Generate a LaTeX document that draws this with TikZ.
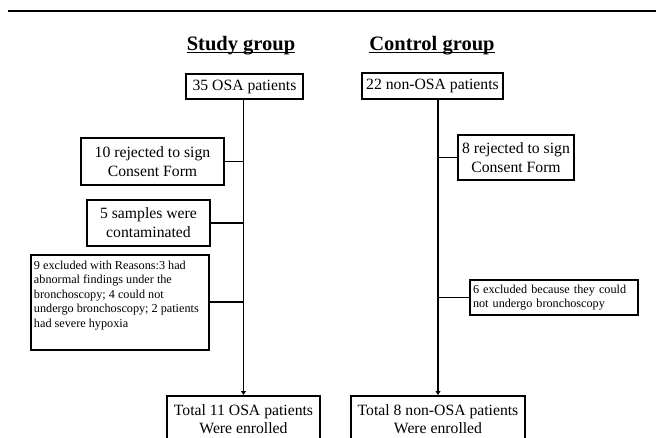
\documentclass[tikz,border=0pt]{standalone}
\usepackage{fontspec}
\setmainfont{Liberation Serif}
\usetikzlibrary{positioning, arrows.meta}

\begin{document}
\begin{tikzpicture}[
    x=1pt, y=-1pt,
    % --- STYLES ---
    title/.style={
            inner sep=0pt,
            anchor=base,
            font={\fontsize{20.5}{24}\selectfont\bfseries}
        },
    box/.style={
            draw,
            line width=1.9pt,
            inner sep=0pt,
            align=center,
            font={\fontsize{15.7}{18.5}\selectfont}
        },
    note/.style={
            draw,
            line width=1.9pt,
            inner xsep=3pt,
            inner ysep=0pt,
            align=left,
            text width=162pt,
            font={\fontsize{12.2}{14.6}\selectfont}
        },
    notetall/.style={
            draw,
            line width=1.9pt,
            inner xsep=3pt,
            inner ysep=6pt,
            font={\fontsize{12.2}{14.6}\selectfont}
        },
    spine/.style={
            -{Triangle[length=4pt,width=5pt]},
            line width=1.8pt
        },
    branch/.style={
            line width=1.8pt
        }
    ]

    \path[use as bounding box] (0,0) rectangle (656,437);
    \clip (0,0) rectangle (656,437);

    % --- TOP RULE ---
    \draw[line width=2.5pt] (8,11) -- (656,11);

    % --- TITLES ---
    \node[title] (study) at (241,50) {Study group};
    \node[title] (control) at (432,50) {Control group};
    \draw[line width=1.2pt] ([yshift=-2.5pt]study.base west) -- ([yshift=-2.5pt]study.base east);
    \draw[line width=1.2pt] ([yshift=-2.5pt]control.base west) -- ([yshift=-2.5pt]control.base east);

    % --- STUDY GROUP ---
    \node[box, minimum width=117pt, minimum height=25pt] (osa) at (244.5,86.5) {35 OSA patients};
    \node[box, minimum width=143pt, minimum height=47pt, below=37pt of osa, xshift=-92pt] (rejosa) {10 rejected to sign\\Consent Form};
    \node[box, minimum width=123pt, minimum height=46pt, below=13pt of rejosa, xshift=-4pt] (samposa) {5 samples were\\contaminated};
    \node[notetall, below=7pt of samposa, xshift=-28.5pt] (exclosa) {\parbox[t][83pt][t]{172pt}{\raggedright
            9 excluded with Reasons:3 had\\abnormal findings under the\\bronchoscopy; 4 could not\\undergo bronchoscopy; 2 patients\\had severe hypoxia}};
    \node[box, minimum width=153pt, minimum height=46pt, anchor=north] (totalosa) at (243.5,395) {Total 11 OSA patients\\Were enrolled};

    % --- CONTROL GROUP ---
    \node[box, minimum width=141pt, minimum height=26pt] (nonosa) at (432.5,86) {22 non-OSA patients};
    \node[box, minimum width=116pt, minimum height=45pt] (rejnon) at (516,157.5) {8 rejected to sign\\Consent Form};
    \node[note, minimum height=35pt] (exclnon) at (554,297.5) {6 excluded because they could\\not undergo bronchoscopy};
    \node[box, minimum width=174pt, minimum height=46pt, anchor=north] (totalnon) at (438,395) {Total 8 non-OSA patients\\Were enrolled};

    % --- FLOW ---
    \draw[spine] (osa.south -| totalosa.north) -- (totalosa.north);
    \draw[branch] (rejosa.east) -- (rejosa.east -| totalosa.north);
    \draw[branch] (samposa.east) -- (samposa.east -| totalosa.north);
    \draw[branch] (exclosa.east) -- (exclosa.east -| totalosa.north);

    \draw[spine] (nonosa.south -| totalnon.north) -- (totalnon.north);
    \draw[branch] (rejnon.west) -- (rejnon.west -| totalnon.north);
    \draw[branch] (exclnon.west) -- (exclnon.west -| totalnon.north);

\end{tikzpicture}
\end{document}
